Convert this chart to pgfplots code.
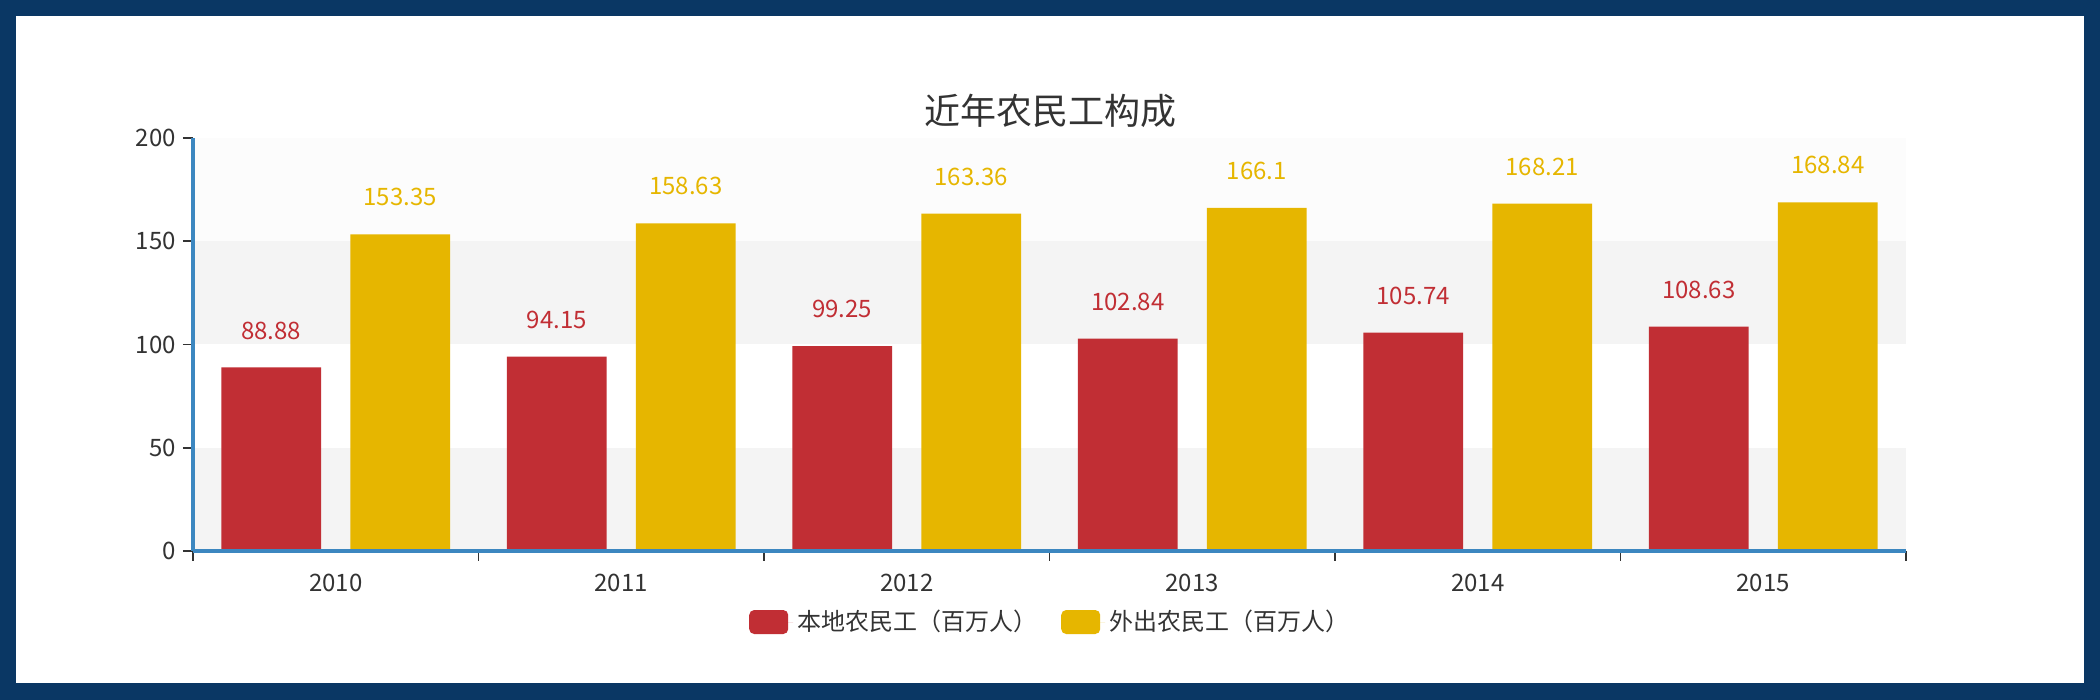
\documentclass[border=0pt]{standalone}
\usepackage{fontspec}
\setmainfont{Noto Sans CJK SC}
\usepackage{pgfplots}
\pgfplotsset{compat=1.18}
\definecolor{navy}{HTML}{0A3764}
\definecolor{cred}{HTML}{C12E34}
\definecolor{cyel}{HTML}{E6B600}
\definecolor{axblue}{HTML}{3C87C0}
\definecolor{band}{HTML}{F4F4F4}
\definecolor{bandtwo}{HTML}{FCFCFC}
\definecolor{txt}{HTML}{333333}
\begin{document}
\begin{tikzpicture}[x=1pt,y=1pt]
\fill[navy] (0,0) rectangle (1050,350);
\fill[white] (8,8.5) rectangle (1042,342);
\useasboundingbox (0,0) rectangle (1050,350);
\node[text=txt,font=\fontsize{18}{20}\selectfont] at (525,294.5) {近年农民工构成};
\begin{axis}[
  at={(96.5pt,74.5pt)}, anchor=south west,
  scale only axis, width=856.5pt, height=206.5pt,
  xmin=-0.5, xmax=5.5, ymin=0, ymax=200,
  clip=false,
  ybar, bar width=0.35,
  xtick={0,...,5},
  xticklabels={2010,2011,2012,2013,2014,2015},
  minor xtick={-0.5,0.5,...,5.5},
  ytick={0,50,100,150,200},
  axis x line*=bottom, axis y line*=left,
  x axis line style={-, draw=axblue, line width=1.6pt},
  y axis line style={-, draw=axblue, line width=1.6pt},
  tick align=outside,
  major tick length=5pt, minor tick length=5pt,
  major x tick style={draw=none},
  minor x tick style={draw=txt, line width=0.8pt},
  major y tick style={draw=txt, line width=0.8pt},
  axis on top,
  /pgf/number format/assume math mode=true,
  xticklabel style={text=txt, font=\fontsize{12}{14}\selectfont, yshift=-3pt},
  yticklabel style={text=txt, font=\fontsize{12}{14}\selectfont},
  nodes near coords,
  point meta=explicit symbolic,
  every node near coord/.append style={font=\fontsize{12}{14}\selectfont, anchor=center, yshift=18.5pt},
  legend columns=2,
  legend style={at={(0.501,-0.172)}, anchor=center, draw=none, fill=none,
    font=\fontsize{12}{14}\selectfont, text=txt,
    /tikz/every even column/.append style={column sep=10pt}},
  mylegend/.style={legend image code/.code={\path (0pt,0pt) -- (22pt,0pt);\fill[rounded corners=2.5pt] (0pt,-6pt) rectangle (19.5pt,6pt);}},
]
\fill[band] (axis cs:-0.5,0) rectangle (axis cs:5.5,50);
\fill[band] (axis cs:-0.5,100) rectangle (axis cs:5.5,150);
\fill[bandtwo] (axis cs:-0.5,150) rectangle (axis cs:5.5,200);
\addplot[fill=cred, draw=none, bar shift=-0.226, mylegend,
  every node near coord/.append style={text=cred}]
  coordinates {(0,88.88)[88.88] (1,94.15)[94.15] (2,99.25)[99.25] (3,102.84)[102.84] (4,105.74)[105.74] (5,108.63)[108.63]};
\addlegendentry{本地农民工（百万人）}
\addplot[fill=cyel, draw=none, bar shift=0.226, mylegend,
  every node near coord/.append style={text=cyel}]
  coordinates {(0,153.35)[153.35] (1,158.63)[158.63] (2,163.36)[163.36] (3,166.1)[166.1] (4,168.21)[168.21] (5,168.84)[168.84]};
\addlegendentry{外出农民工（百万人）}
\end{axis}
\end{tikzpicture}
\end{document}
